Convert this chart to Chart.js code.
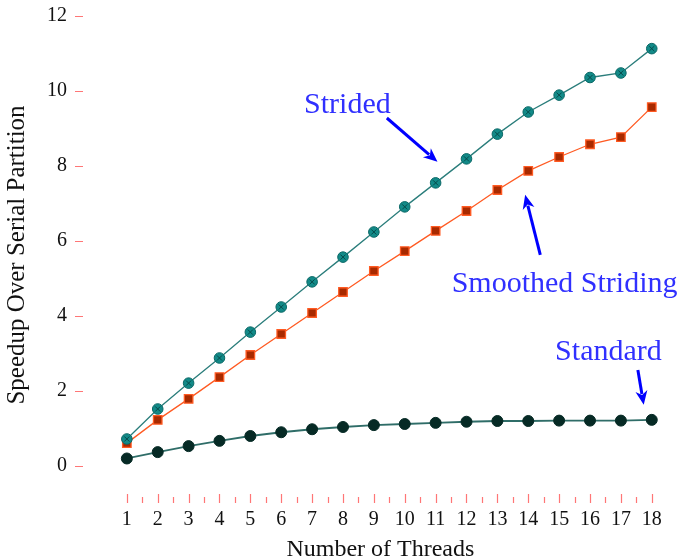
<!DOCTYPE html>
<html>
<head>
<meta charset="utf-8">
<script src="https://cdn.jsdelivr.net/npm/chart.js@4.4.1/dist/chart.umd.min.js"></script>
<style>
  html, body { margin: 0; padding: 0; background: #fff; }
  #wrap { width: 685px; height: 559px; position: relative; }
</style>
</head>
<body>
<div id="wrap"><canvas id="speedup-chart"></canvas></div>
<script>
// data
const threads = [1, 2, 3, 4, 5, 6, 7, 8, 9, 10, 11, 12, 13, 14, 15, 16, 17, 18];
const strided = [0.72, 1.52, 2.21, 2.88, 3.57, 4.24, 4.91, 5.57, 6.24, 6.91, 7.55, 8.19, 8.85, 9.44, 9.89, 10.36, 10.48, 11.13];
const smoothed = [0.61, 1.23, 1.79, 2.37, 2.96, 3.52, 4.08, 4.64, 5.2, 5.73, 6.27, 6.8, 7.36, 7.87, 8.24, 8.58, 8.77, 9.57];
const standard = [0.2, 0.37, 0.53, 0.67, 0.8, 0.9, 0.98, 1.04, 1.09, 1.12, 1.15, 1.18, 1.2, 1.2, 1.21, 1.21, 1.21, 1.23];
const yTicks = [0, 2, 4, 6, 8, 10, 12];
const xMinorTicks = [1.5, 2.5, 3.5, 4.5, 5.5, 6.5, 7.5, 8.5, 9.5, 10.5, 11.5, 12.5, 13.5, 14.5, 15.5, 16.5, 17.5];

// callouts (in data units): label, text anchor, arrow tail, arrow tip
const noteText = ['Strided', 'Smoothed Striding', 'Standard'];
const noteAt = [[6.74, 9.41], [11.52, 4.64], [14.87, 2.83]];
const arrowFrom = [[9.42, 9.28], [14.39, 5.63], [17.55, 2.56]];
const arrowTo = [[11.06, 8.11], [13.9, 7.23], [17.74, 1.63]];

const pts = vals => threads.map((t, i) => ({x: t, y: vals[i]}));
const serif = '"Liberation Serif", "DejaVu Serif", serif';

// red tick marks outside the plot area, like the pgfplots original
const tickMarks = {
    id: 'tickMarks',
    afterDraw(chart) {
        const {ctx, chartArea, scales} = chart;
        ctx.save();
        ctx.lineWidth = 1.2;
        ctx.strokeStyle = 'rgba(255,60,60,0.7)';
        ctx.beginPath();
        yTicks.forEach(v => {
            const y = Math.round(scales.y.getPixelForValue(v)) + 0.5;
            ctx.moveTo(chartArea.left - 8, y);
            ctx.lineTo(chartArea.left, y);
        });
        threads.forEach(v => {
            const x = Math.round(scales.x.getPixelForValue(v)) + 0.5;
            ctx.moveTo(x, chartArea.bottom);
            ctx.lineTo(x, chartArea.bottom + 9);
        });
        xMinorTicks.forEach(v => {
            const x = Math.round(scales.x.getPixelForValue(v)) + 0.5;
            ctx.moveTo(x, chartArea.bottom + 3);
            ctx.lineTo(x, chartArea.bottom + 9);
        });
        ctx.stroke();
        ctx.restore();
    }
};

const callouts = {
    id: 'callouts',
    afterDatasetsDraw(chart) {
        const {ctx, scales} = chart;
        const px = p => [scales.x.getPixelForValue(p[0]), scales.y.getPixelForValue(p[1])];
        ctx.save();
        ctx.font = '30px ' + serif;
        ctx.textBaseline = 'alphabetic';
        ctx.textAlign = 'left';
        noteText.forEach((txt, i) => {
            const [tx, ty] = px(noteAt[i]);
            ctx.fillStyle = '#3030ff';
            ctx.fillText(txt, tx, ty);

            const [x0, y0] = px(arrowFrom[i]);
            const [x1, y1] = px(arrowTo[i]);
            const ang = Math.atan2(y1 - y0, x1 - x0);
            const headLen = 14, headW = 6;
            const bx = x1 - headLen * Math.cos(ang), by = y1 - headLen * Math.sin(ang);
            ctx.strokeStyle = '#0000ff';
            ctx.lineWidth = 3;
            ctx.beginPath();
            ctx.moveTo(x0, y0);
            ctx.lineTo(bx + 3 * Math.cos(ang), by + 3 * Math.sin(ang));
            ctx.stroke();
            ctx.fillStyle = '#0000ff';
            ctx.beginPath();
            ctx.moveTo(x1, y1);
            ctx.lineTo(bx - headW * Math.sin(ang), by + headW * Math.cos(ang));
            ctx.lineTo(bx + 4 * Math.cos(ang), by + 4 * Math.sin(ang));
            ctx.lineTo(bx + headW * Math.sin(ang), by - headW * Math.cos(ang));
            ctx.closePath();
            ctx.fill();
        });
        ctx.restore();
    }
};

const ctx = document.getElementById('speedup-chart').getContext('2d');
new Chart(ctx, {
    type: 'line',
    data: {
        datasets: [
            {
                label: 'Strided (cross)',
                data: pts(strided),
                showLine: false,
                pointStyle: 'crossRot',
                pointRadius: 3.6,
                pointBorderColor: '#064a4a',
                pointBorderWidth: 1,
                order: 0
            },
            {
                label: 'Strided',
                data: pts(strided),
                borderColor: '#2a7d7b',
                borderWidth: 1.3,
                pointStyle: 'circle',
                pointRadius: 5.3,
                pointBackgroundColor: '#128a88',
                pointBorderColor: '#0b6866',
                pointBorderWidth: 1,
                order: 1
            },
            {
                label: 'Smoothed Striding',
                data: pts(smoothed),
                borderColor: '#ff5a22',
                borderWidth: 1.3,
                pointStyle: 'rect',
                pointRadius: 6,
                pointBackgroundColor: '#a82a00',
                pointBorderColor: '#ff5a22',
                pointBorderWidth: 1.3,
                order: 2
            },
            {
                label: 'Standard',
                data: pts(standard),
                borderColor: '#2f6d68',
                borderWidth: 1.8,
                pointStyle: 'circle',
                pointRadius: 5.5,
                pointBackgroundColor: '#062a25',
                pointBorderColor: '#062a25',
                pointBorderWidth: 1,
                order: 3
            }
        ]
    },
    options: {
        responsive: true,
        maintainAspectRatio: false,
        animation: false,
        clip: false,
        elements: { line: { tension: 0 } },
        layout: { padding: { top: 16, right: 5, left: 0, bottom: 0 } },
        plugins: {
            legend: { display: false },
            tooltip: { enabled: false }
        },
        scales: {
            x: {
                type: 'linear',
                min: -0.42,
                max: 18.84,
                afterBuildTicks: axis => { axis.ticks = threads.map(v => ({value: v})); },
                afterFit: axis => { axis.height = 65; axis.paddingLeft = 0; axis.paddingRight = 0; },
                grid: { display: true, drawOnChartArea: false, drawTicks: false },
                border: { display: false },
                ticks: {
                    padding: 14,
                    color: '#111',
                    font: { family: serif, size: 20 },
                    maxRotation: 0,
                    autoSkip: false
                },
                title: {
                    display: true,
                    text: 'Number of Threads',
                    color: '#111',
                    font: { family: serif, size: 24, lineHeight: 0.8 },
                    padding: { top: 0, bottom: 0 }
                }
            },
            y: {
                type: 'linear',
                min: -0.747,
                max: 12,
                afterBuildTicks: axis => { axis.ticks = yTicks.map(v => ({value: v})); },
                afterFit: axis => { axis.width = 83; axis.paddingTop = 0; axis.paddingBottom = 0; },
                grid: { display: true, drawOnChartArea: false, drawTicks: false },
                border: { display: false },
                ticks: {
                    padding: 16,
                    color: '#111',
                    font: { family: serif, size: 20 }
                },
                title: {
                    display: true,
                    text: 'Speedup Over Serial Partition',
                    color: '#111',
                    font: { family: serif, size: 25, lineHeight: 1 },
                    padding: { top: 5, bottom: 0 }
                }
            }
        }
    },
    plugins: [tickMarks, callouts]
});
</script>
</body>
</html>
